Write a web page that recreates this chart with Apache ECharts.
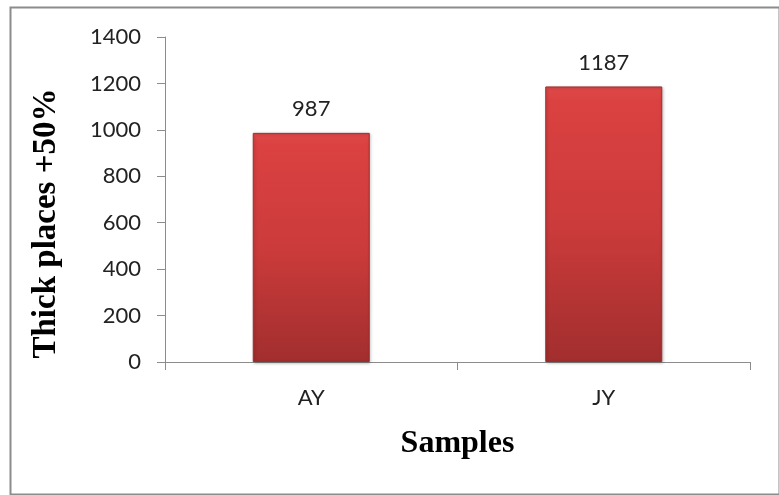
<!DOCTYPE html>
<html><head><meta charset="utf-8">
<script src="https://cdn.jsdelivr.net/npm/echarts@6/dist/echarts.min.js"></script>
<style>html,body{margin:0;padding:0;background:#fff}#c{width:779px;height:495px}</style>
</head><body><div id="c"></div>
<script>
var categories = ['AY', 'JY'];
var values = [987, 1187];
var yTicks = [0, 200, 400, 600, 800, 1000, 1200, 1400];

var chart = echarts.init(document.getElementById('c'));
var barColor = new echarts.graphic.LinearGradient(0, 0, 0, 1, [
  {offset: 0, color: '#e04a4a'},
  {offset: 0.05, color: '#db4141'},
  {offset: 0.5, color: '#cc3b3b'},
  {offset: 1, color: '#a22e2e'}
]);
chart.setOption({
  animation: false,
  backgroundColor: '#fff',
  graphic: [{
    type: 'rect', left: 8, top: 5, shape: {width: 769, height: 487},
    style: {fill: 'none', stroke: '#8c8c8c', lineWidth: 2}
  }],
  grid: {left: 165, right: 29, top: 37, bottom: 133},
  xAxis: {
    type: 'category', data: categories,
    name: 'Samples', nameLocation: 'middle', nameGap: 66,
    nameTextStyle: {fontFamily: 'Liberation Serif', fontWeight: 'bold', fontSize: 32, color: '#000'},
    axisLine: {lineStyle: {color: '#8c8c8c', width: 1}},
    axisTick: {show: true, length: 8, lineStyle: {color: '#8c8c8c'}},
    axisLabel: {fontFamily: 'Lato', fontSize: 22, color: '#222', margin: 25}
  },
  yAxis: {
    type: 'value', min: yTicks[0], max: yTicks[yTicks.length - 1], interval: 200,
    name: 'Thick places +50%', nameLocation: 'middle', nameGap: 102,
    nameTextStyle: {fontFamily: 'Liberation Serif', fontWeight: 'bold', fontSize: 33, color: '#000', padding: [0, 48, 0, 0]},
    axisLine: {show: true, lineStyle: {color: '#8c8c8c', width: 1}},
    axisTick: {show: true, length: 8, lineStyle: {color: '#8c8c8c'}},
    splitLine: {show: false},
    axisLabel: {fontFamily: 'Lato', fontSize: 22, color: '#222', margin: 24, formatter: function (v) { return String(v); }}
  },
  series: [{
    type: 'bar', data: values, barWidth: '40%',
    itemStyle: {color: barColor, borderColor: '#9e2c2c', borderWidth: 1,
      shadowColor: 'rgba(0,0,0,0.25)', shadowBlur: 3, shadowOffsetX: 1, shadowOffsetY: 1},
    label: {show: true, position: 'top', distance: 13, fontFamily: 'Lato', fontSize: 22, color: '#222'}
  }]
});
</script></body></html>
